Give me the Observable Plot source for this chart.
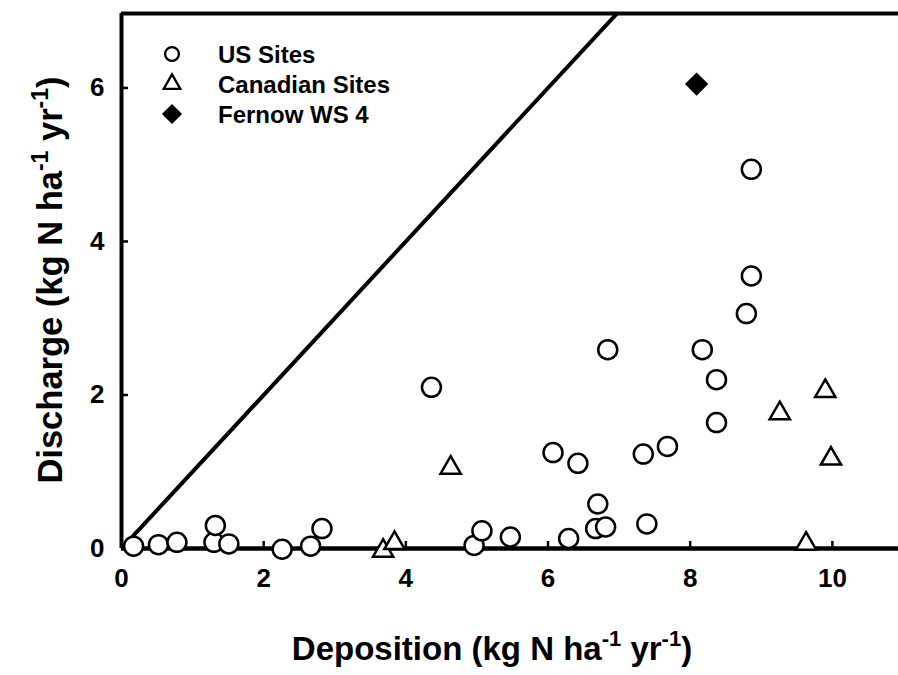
<!DOCTYPE html>
<html><head><meta charset="utf-8">
<script src="https://cdn.jsdelivr.net/npm/d3@7"></script>
<script src="https://cdn.jsdelivr.net/npm/@observablehq/plot@0.6"></script>
<style>html,body{margin:0;padding:0;background:#fff;} svg{display:block}</style>
</head><body><div id="chart"></div>
<script>
// ---- data ----
const usX = [0.17,0.52,0.78,1.30,1.32,1.51,2.26,2.66,2.82,4.36,4.96,5.07,5.47,6.07,6.29,6.42,6.67,6.70,6.81,6.84,7.34,7.39,7.68,8.17,8.37,8.37,8.79,8.86,8.86];
const usY = [0.03,0.05,0.08,0.08,0.30,0.06,-0.01,0.03,0.26,2.10,0.04,0.23,0.15,1.25,0.13,1.11,0.26,0.58,0.28,2.59,1.23,0.32,1.33,2.59,2.20,1.64,3.06,3.55,4.94];
const canX = [3.68,3.84,4.63,9.26,9.63,9.90,9.98];
const canY = [-0.03,0.07,1.05,1.76,0.06,2.05,1.17];
const fernowX = [8.09];
const fernowY = [6.05];
const oneToOne = [0, 8];
const xTicks = [0,2,4,6,8,10];
const yTicks = [0,2,4,6];
const xInnerTicks = [2,4,6,8,10];
const yInnerTicks = [2,4,6];
const xDomain = [0, 10.93];
const yDomain = [0, 6.97];
const legendLabels = ["US Sites","Canadian Sites","Fernow WS 4"];
const legendSymbols = ["circle","triangle","diamond2"];

const us = usX.map((x,i)=>({x, y: usY[i]}));
const can = canX.map((x,i)=>({x, y: canY[i]}));
const fernow = fernowX.map((x,i)=>({x, y: fernowY[i]}));

const font = "'Liberation Sans', Arial, Helvetica, sans-serif";

const plot = Plot.plot({
  width: 898, height: 675,
  marginLeft: 121, marginRight: 0, marginTop: 13, marginBottom: 127,
  style: {fontFamily: font, fontWeight: "bold", background: "white", color: "black", overflow: "visible"},
  x: {domain: xDomain},
  y: {domain: yDomain},
  marks: [
    Plot.line(oneToOne, {x: d => d, y: d => d, stroke: "black", strokeWidth: 4, clip: true}),
    Plot.ruleY([yDomain[1]], {stroke: "black", strokeWidth: 4}),
    Plot.ruleY([0], {stroke: "black", strokeWidth: 4.5}),
    Plot.ruleX([0], {stroke: "black", strokeWidth: 4}),
    Plot.axisX({ticks: xTicks, tickSize: 0, tickPadding: 20, label: null, fontSize: 26, fontWeight: "bold", tickFormat: d3.format("d")}),
    Plot.axisY({ticks: yTicks, tickSize: 0, tickPadding: 17, label: null, fontSize: 26, fontWeight: "bold", tickFormat: d3.format("d")}),
    Plot.axisX({ticks: xInnerTicks, tickSize: -7, fill: "none", label: null, strokeWidth: 2.5}),
    Plot.axisY({ticks: yInnerTicks, tickSize: -7, fill: "none", label: null, strokeWidth: 2.5}),
    Plot.dot(us, {x: "x", y: "y", r: 9.5, symbol: "circle", stroke: "black", strokeWidth: 2.5, fill: "white"}),
    Plot.dot(can, {x: "x", y: "y", r: 7.5, symbol: "triangle", stroke: "black", strokeWidth: 2.5, fill: "white"}),
    Plot.dot(fernow, {x: "x", y: "y", r: 10.5, symbol: "diamond2", stroke: "none", fill: "black"})
  ]
});
document.getElementById("chart").appendChild(plot);

const svg = d3.select(plot);

// legend
const symMap = {circle: d3.symbolCircle, triangle: d3.symbolTriangle, diamond2: d3.symbolDiamond2};
const legSizes = {circle: 150, triangle: 120, diamond2: 260};
const legend = svg.append("g");
legendLabels.forEach((lab, i) => {
  const y = 54 + i * 30;
  const s = legendSymbols[i];
  legend.append("path")
    .attr("transform", `translate(172,${y})`)
    .attr("d", d3.symbol(symMap[s], legSizes[s])())
    .attr("fill", s === "diamond2" ? "black" : "white")
    .attr("stroke", s === "diamond2" ? "none" : "black")
    .attr("stroke-width", 2.3);
  legend.append("text")
    .attr("x", 218).attr("y", y)
    .attr("dy", "0.36em")
    .attr("text-anchor", "start")
    .attr("font-family", font).attr("font-weight", "bold").attr("font-size", 24)
    .text(lab);
});

function titleText(g, main, size) {
  const sup = Math.round(size * 0.68), shift = Math.round(size * 0.42);
  const t = g.append("text")
    .attr("font-family", font).attr("font-weight", "bold").attr("font-size", size)
    .attr("text-anchor", "middle");
  t.append("tspan").text(main + " (kg N ha");
  t.append("tspan").attr("dy", -shift).attr("font-size", sup).text("-1");
  t.append("tspan").attr("dy", shift).text(" yr");
  t.append("tspan").attr("dy", -shift).attr("font-size", sup).text("-1");
  t.append("tspan").attr("dy", shift).text(")");
  return t;
}
titleText(svg.append("g").attr("transform", "translate(492,660)"), "Deposition", 33);
titleText(svg.append("g").attr("transform", "translate(62,280) rotate(-90)"), "Discharge", 34.5);
</script>
</body></html>
